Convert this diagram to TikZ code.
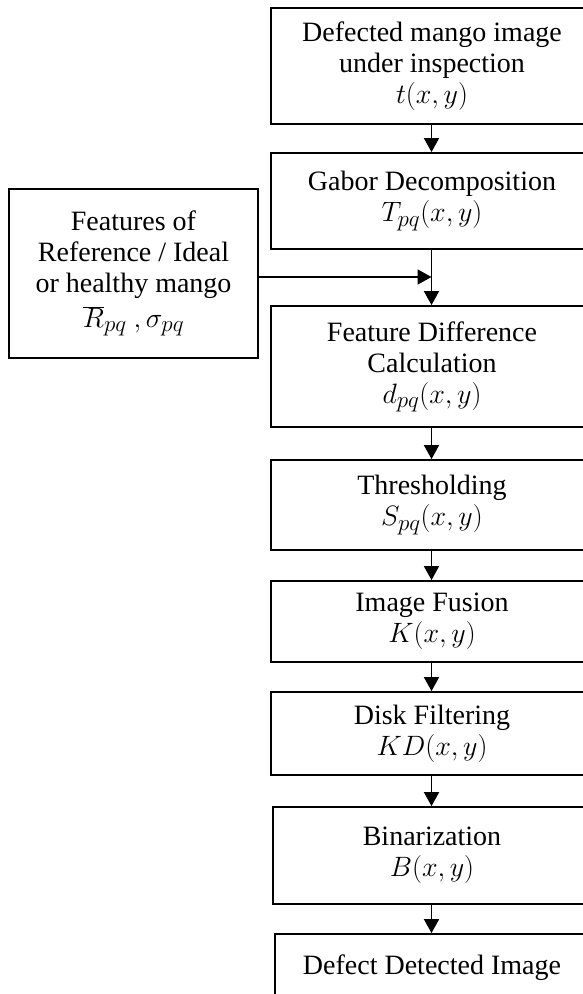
\documentclass[tikz,border=0pt]{standalone}
\usepackage{fix-cm}
\usepackage{fontspec}
\setmainfont{Liberation Serif}
\DeclareMathSizes{28}{28}{23}{17}
\usetikzlibrary{arrows.meta}
\begin{document}
\begin{tikzpicture}[x=1pt,y=-1pt,
  box/.style={draw, line width=1.8pt, align=center, inner sep=0pt, minimum width=322pt, font=\fontsize{28}{31}\selectfont},
  arr/.style={line width=1.8pt, -{Triangle[width=15pt,length=14pt]}}]
\useasboundingbox (0,0) rectangle (583,994);
\clip (0,0) rectangle (583,994);
\node[box, minimum height=116pt] (n1) at (432,66) {Defected mango image\\under inspection\\$t(x,y)$};
\node[box, minimum height=96pt] (n2) at (432,201) {Gabor Decomposition\\$T_{pq}(x,y)$};
\node[box, minimum height=121pt] (n3) at (432,366.5) {Feature Difference\\Calculation\\$d_{pq}(x,y)$};
\node[box, minimum height=90pt] (n4) at (432,505) {Thresholding\\$S_{pq}(x,y)$};
\node[box, minimum height=81pt] (n5) at (432,621.5) {Image Fusion\\$K(x,y)$};
\node[box, minimum height=83pt] (n6) at (432,733.5) {Disk Filtering\\$KD(x,y)$};
\node[box, minimum height=97pt, minimum width=318pt] (n7) at (432,855.5) {Binarization\\$B(x,y)$};
\node[box, minimum height=92pt, minimum width=314pt] (n8) at (432,980) {Defect Detected Image\\\mbox{}};
\node[box, minimum height=169pt, minimum width=249pt] (ref) at (133.5,273.5) {Features of\\Reference / Ideal\\or healthy mango\\[4pt]$\overline{R}_{pq}\ ,\sigma_{pq}$};
\coordinate (j) at (431.5,277);
\draw[arr] (n1.south -| j) -- (n2.north -| j);
\draw[arr] (n2.south -| j) -- (n3.north -| j);
\draw[arr] (ref.east |- j) -- (j);
\draw[arr] (n3.south -| j) -- (n4.north -| j);
\draw[arr] (n4.south -| j) -- (n5.north -| j);
\draw[arr] (n5.south -| j) -- (n6.north -| j);
\draw[arr] (n6.south -| j) -- (n7.north -| j);
\draw[arr] (n7.south -| j) -- (n8.north -| j);
\end{tikzpicture}
\end{document}
